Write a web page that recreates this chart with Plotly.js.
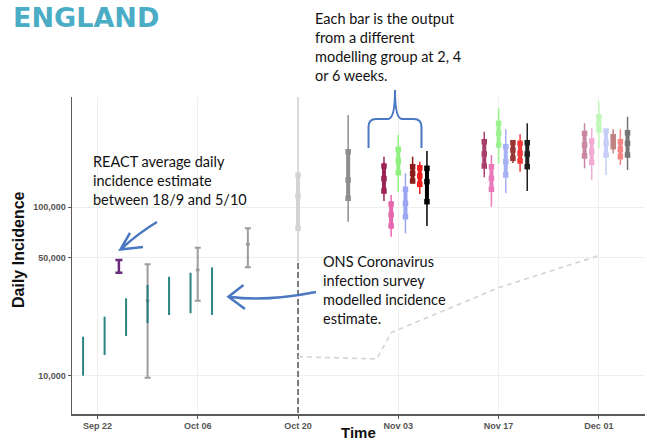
<!DOCTYPE html>
<html><head><meta charset="utf-8">
<script src="https://cdn.plot.ly/plotly-3.0.1.min.js"></script>
<style>html,body{margin:0;padding:0;background:#fff}#chart{width:647px;height:443px}</style>
</head><body><div id="chart"></div>
<script>
// ---------- DATA ----------
// ONS Coronavirus infection survey modelled incidence (teal ranges)
const onsDates = ['2020-09-20','2020-09-23','2020-09-26','2020-09-29','2020-10-02','2020-10-05','2020-10-08'];
const onsLow   = [10040, 13310, 17250, 20590, 22960, 23500, 22960];
const onsHigh  = [17080, 22440, 28840, 34540, 38690, 40830, 43950];

// REACT average daily incidence (18/9 - 5/10)
const reactDates = ['2020-09-25'];
const reactLow   = [40830];
const reactMid   = [44500];
const reactHigh  = [48540];

// Other estimates (grey capped ranges)
const grayDates = ['2020-09-29','2020-10-06','2020-10-13'];
const grayLow   = [9770, 27900, 43950];
const grayMid   = [27900, 42380, 60100];
const grayHigh  = [45810, 57400, 74800];

// ONS modelled incidence, projected (dashed)
const projDates  = ['2020-10-20','2020-10-31','2020-11-02','2020-11-17','2020-12-01'];
const projValues = [13010, 12610, 18040, 33300, 51540];

const projectionStart = '2020-10-20';

// Earlier model outputs (grey)
const earlyDates = ['2020-10-20','2020-10-27'];
const earlyLo  = [47280, 81800];
const earlyQ1  = [74800, 112600];
const earlyMid = [116100, 144600];
const earlyQ3  = [154500, 212300];
const earlyHi  = [460000, 349800];

// Modelling groups: 2, 4 and 6 weeks ahead
const groupNames = ['Group A','Group B','Group C','Group D','Group E','Group F','Group G'];

const dates2w = ['2020-11-01','2020-11-02','2020-11-03','2020-11-04','2020-11-05','2020-11-06','2020-11-07'];
const lo2w  = [108500, 66730, 123200, 69900, 138100, 119400, 77200];
const q1_2w = [124300, 77200, 159600, 87600, 142500, 136200, 107500];
const mid2w = [147100, 89700, 187200, 105200, 158300, 152600, 141200];
const q3_2w = [174800, 104200, 219500, 127300, 173200, 170800, 169400];
const hi2w  = [198500, 117800, 266700, 158300, 198500, 185400, 214500];

const dates4w = ['2020-11-15','2020-11-16','2020-11-17','2020-11-18','2020-11-19','2020-11-20','2020-11-21'];
const lo4w  = [149900, 100400, 181400, 120500, 182100, 161800, 124300];
const q1_4w = [174800, 127300, 232800, 154700, 194200, 187200, 173200];
const mid4w = [205900, 147900, 272900, 185400, 217400, 207900, 205900];
const q3_4w = [243500, 173200, 312800, 227500, 240200, 238200, 240200];
const hi4w  = [279000, 203100, 383700, 288300, 249200, 269300, 312800];

const dates6w = ['2020-11-29','2020-11-30','2020-12-01','2020-12-02','2020-12-03','2020-12-04','2020-12-05'];
const lo6w  = [169400, 144500, 222500, 154700, 207900, 177300, 165500];
const q1_6w = [200400, 183800, 285500, 203100, 227500, 198500, 203100];
const mid6w = [232800, 212400, 312800, 238200, 243500, 219500, 238200];
const q3_6w = [272900, 245800, 342100, 281700, 260600, 243500, 275200];
const hi6w  = [312800, 292200, 420000, 288300, 288300, 288300, 342100];

const xTickVals = ['2020-09-22','2020-10-06','2020-10-20','2020-11-03','2020-11-17','2020-12-01'];
const xTickText = ['Sep 22','Oct 06','Oct 20','Nov 03','Nov 17','Dec 01'];
const yTickVals = [10000, 50000, 100000];
const yTickText = ['10,000','50,000','100,000'];

// ---------- STYLE ----------
const groupColors = ['#9c2456','#e766b0','#8ff07f','#9aa6f2','#8b1c1c','#f01e1e','#000000'];
const horizonAlpha = [1, 0.88, 0.55];

function mix(hex, a) {
  const r = parseInt(hex.slice(1,3),16), g = parseInt(hex.slice(3,5),16), b = parseInt(hex.slice(5,7),16);
  const f = v => Math.round(v*a + 255*(1-a));
  return 'rgb(' + f(r) + ',' + f(g) + ',' + f(b) + ')';
}

const traces = [];
const base = {type:'scatter', hoverinfo:'skip', showlegend:false};

// vertical dashed line at projection start
traces.push(Object.assign({}, base, {mode:'lines', x:[projectionStart, projectionStart], y:[1, earlyLo[0]],
  line:{color:'#3a3a3a', width:1.3, dash:'6px,3px'}}));

// projected ONS incidence
traces.push(Object.assign({}, base, {mode:'lines', x:projDates, y:projValues,
  line:{color:'#d4d4d4', width:1.6, dash:'5px,4px'}}));

// grey capped ranges
traces.push(Object.assign({}, base, {mode:'markers', x:grayDates, y:grayMid,
  marker:{color:'#9d9d9d', size:4},
  error_y:{type:'data', symmetric:false,
    array: grayHigh.map((h,i)=>h-grayMid[i]), arrayminus: grayLow.map((l,i)=>grayMid[i]-l),
    color:'#9d9d9d', thickness:2, width:3}}));

// ONS teal ranges
const onsX = [], onsY = [];
onsDates.forEach((d,i)=>{ onsX.push(d,d,null); onsY.push(onsLow[i], onsHigh[i], null); });
traces.push(Object.assign({}, base, {mode:'lines', x:onsX, y:onsY, opacity:0.95,
  line:{color:'#1f7e7a', width:2}}));

// REACT
traces.push(Object.assign({}, base, {mode:'markers', x:reactDates, y:reactMid,
  marker:{color:'#6a2b7c', size:1},
  error_y:{type:'data', symmetric:false,
    array: reactHigh.map((h,i)=>h-reactMid[i]), arrayminus: reactLow.map((l,i)=>reactMid[i]-l),
    color:'#6a2b7c', thickness:2.5, width:3.5}}));

function rangeBar(date, lo, q1, mid, q3, hi, color) {
  traces.push(Object.assign({}, base, {mode:'lines', x:[date,date], y:[lo,hi], line:{color:color, width:1.5}}));
  traces.push(Object.assign({}, base, {mode:'lines', x:[date,date], y:[q1,q3], line:{color:color, width:4}}));
  traces.push(Object.assign({}, base, {mode:'markers', x:[date,date,date], y:[q1,mid,q3],
    marker:{symbol:'square', size:5.5, color:color}}));
}

const earlyColors = ['#d3d3d3','#8e8e8e'];
earlyDates.forEach((d,i)=>rangeBar(d, earlyLo[i], earlyQ1[i], earlyMid[i], earlyQ3[i], earlyHi[i], earlyColors[i]));

const horizons = [
  [dates2w, lo2w, q1_2w, mid2w, q3_2w, hi2w],
  [dates4w, lo4w, q1_4w, mid4w, q3_4w, hi4w],
  [dates6w, lo6w, q1_6w, mid6w, q3_6w, hi6w]
];
horizons.forEach((h,k)=>{
  groupNames.forEach((g,i)=>{
    rangeBar(h[0][i], h[1][i], h[2][i], h[3][i], h[4][i], h[5][i], mix(groupColors[i], horizonAlpha[k]));
  });
});

// ---------- LAYOUT ----------
const M = {l:72, r:2, t:97, b:29};
const W = 647, H = 443;
const pw = W - M.l - M.r, ph = H - M.t - M.b;
const px = (x)=> (x - M.l)/pw;
const py = (y)=> (H - M.b - y)/ph;
const P = (x,y)=> px(x).toFixed(4) + ',' + py(y).toFixed(4);

const textFont = {family:'Lato, "Open Sans", sans-serif', size:14.5, color:'#111'};
const blue = '#4a78c2';

const layout = {
  width:W, height:H, margin:M,
  paper_bgcolor:'#fff', plot_bgcolor:'#fff',
  showlegend:false,
  xaxis:{type:'date', range:['2020-09-18 10:50','2020-12-07 10:30'],
    tickmode:'array', tickvals:xTickVals, ticktext:xTickText,
    tickfont:{family:'"Liberation Sans", Arial, sans-serif', size:9, color:'#555', weight:'bold'},
    ticks:'outside', ticklen:3, tickcolor:'#555', tickwidth:1,
    showgrid:true, gridcolor:'#eeeeee', gridwidth:1,
    showline:true, linecolor:'#5a5a5a', linewidth:1.5, zeroline:false},
  yaxis:{type:'log', range:[3.7751, 5.6509],
    tickmode:'array', tickvals:yTickVals, ticktext:yTickText,
    tickfont:{family:'"Liberation Sans", Arial, sans-serif', size:9, color:'#555', weight:'bold'},
    ticks:'outside', ticklen:3, tickcolor:'#555', tickwidth:1,
    showgrid:true, gridcolor:'#eeeeee', gridwidth:1,
    showline:true, linecolor:'#5a5a5a', linewidth:1.5, zeroline:false},
  annotations:[
    {xref:'paper', yref:'paper', x:px(11), y:py(17), xanchor:'left', yanchor:'middle', showarrow:false,
     text:'ENGLAND', font:{family:'"DejaVu Sans", sans-serif', size:27, color:'#4bacc6', weight:'bold'}},
    {xref:'paper', yref:'paper', x:px(313), y:py(47), xanchor:'left', yanchor:'middle', align:'left', showarrow:false,
     text:'Each bar is the output<br>from a different<br>modelling group at 2, 4<br>or 6 weeks.', font:textFont},
    {xref:'paper', yref:'paper', x:px(91), y:py(180.5), xanchor:'left', yanchor:'middle', align:'left', showarrow:false,
     text:'REACT average daily<br>incidence estimate<br>between 18/9 and 5/10', font:textFont},
    {xref:'paper', yref:'paper', x:px(320.5), y:py(290.3), xanchor:'left', yanchor:'middle', align:'left', showarrow:false,
     text:'ONS Coronavirus<br>infection survey<br>modelled incidence<br>estimate.', font:textFont},
    {xref:'paper', yref:'paper', x:px(18), y:py(250), xanchor:'center', yanchor:'middle', textangle:-90, showarrow:false,
     text:'Daily Incidence', font:{family:'"Liberation Sans", Arial, sans-serif', size:16, color:'#111', weight:'bold'}},
    {xref:'paper', yref:'paper', x:0.5, y:py(432.5), xanchor:'center', yanchor:'middle', showarrow:false,
     text:'Time', font:{family:'"Liberation Sans", Arial, sans-serif', size:15, color:'#111', weight:'bold'}}
  ],
  shapes:[
    // brace
    {type:'path', xref:'paper', yref:'paper', line:{color:blue, width:2},
     path:'M'+P(368.5,148)+' L'+P(368.5,127)+' Q'+P(368.5,119)+' '+P(376,119)+' L'+P(388,119)+' Q'+P(395,119)+' '+P(395,90)+
          ' Q'+P(395,119)+' '+P(402,119)+' L'+P(414,119)+' Q'+P(421.5,119)+' '+P(421.5,127)+' L'+P(421.5,148)},
    // REACT arrow
    {type:'path', xref:'paper', yref:'paper', line:{color:blue, width:2.5},
     path:'M'+P(157,222)+' Q'+P(140,232)+' '+P(121,249)+' M'+P(130,233)+' L'+P(120.5,249.5)+' L'+P(143,247)},
    // ONS arrow
    {type:'path', xref:'paper', yref:'paper', line:{color:blue, width:2.5},
     path:'M'+P(316,292)+' Q'+P(265,302)+' '+P(229,296.7)+' M'+P(243.5,285)+' L'+P(228.5,296.7)+' L'+P(245,309)}
  ]
};

Plotly.newPlot('chart', traces, layout, {staticPlot:true, displayModeBar:false});
</script>
</body></html>
